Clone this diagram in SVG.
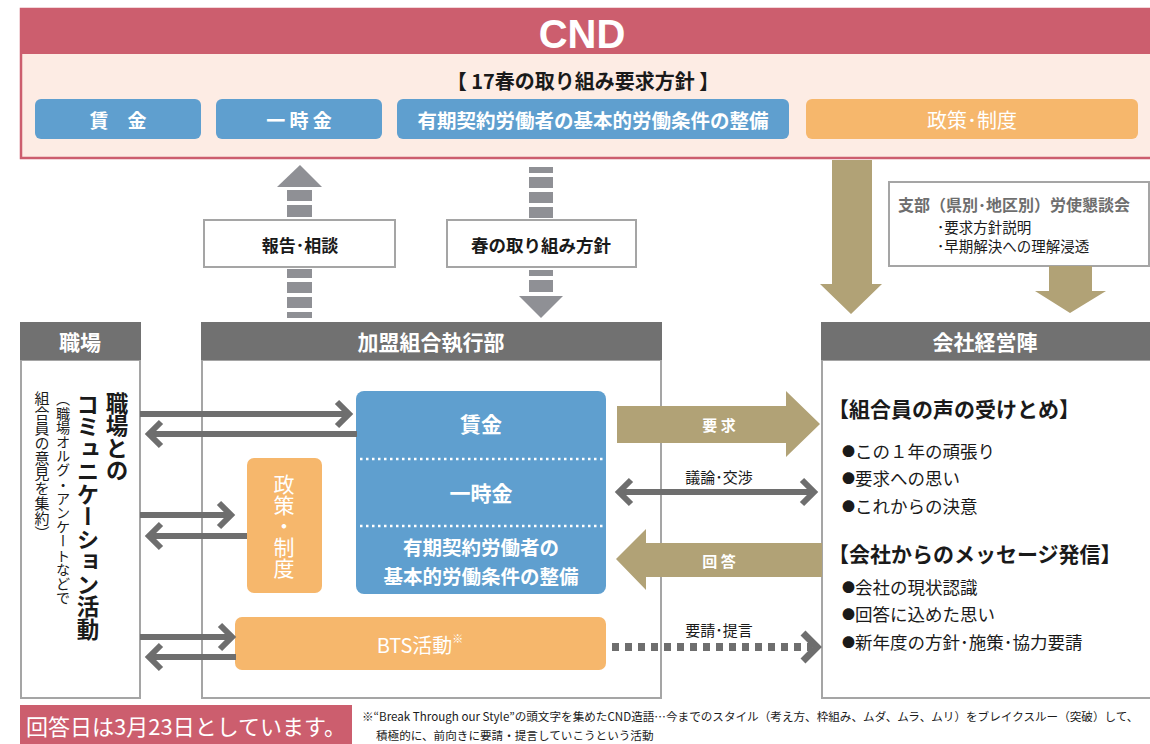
<svg xmlns="http://www.w3.org/2000/svg" width="1150" height="744" viewBox="0 0 1150 744">
<style>
.jp{font-family:"Noto Sans CJK JP","Noto Sans",sans-serif}
.b{font-weight:bold}
.w{fill:#fff}
.c{text-anchor:middle;dominant-baseline:central}
.hdr{fill:#717171}
.panel{fill:#fff;stroke:#A5A5A5;stroke-width:2}
.conn{stroke:#6E6E6E;stroke-width:6;fill:none}
.gray{fill:#8F9095}
.tan{fill:#B1A276}
.vt{writing-mode:vertical-rl}
.dk{fill:#1a1a1a}
.li{font-size:17.5px;dominant-baseline:central}
.bul{font-size:13px}
</style>
<defs>
<marker id="chev" markerUnits="userSpaceOnUse" markerWidth="40" markerHeight="40" viewBox="-20 -20 40 40" refX="0" refY="0" orient="auto-start-reverse">
<path d="M-12,-12 L0,0 L-12,12" fill="none" stroke="#6E6E6E" stroke-width="6"/>
</marker>
</defs>

<g id="cnd">
<rect x="21" y="9" width="1140" height="149" fill="#FDECE4" stroke="#CC5E6E" stroke-width="2.5"/>
<rect x="20" y="8" width="1140" height="46" fill="#CC5E6E"/>
<text x="582" y="34" class="w c b" style="font-family:'Liberation Sans',Arial,sans-serif;font-size:40px">CND</text>
<text x="583" y="80" class="jp b c dk" style="font-size:20px">【 17春の取り組み要求方針 】</text>
</g>
<g id="cnd-wage">
<rect x="35" y="99" width="166" height="40" rx="6" fill="#5F9FCF"/>
<text x="118" y="119" class="jp b w c" style="font-size:19px">賃　金</text>
</g>
<g id="cnd-bonus">
<rect x="216" y="99" width="166" height="40" rx="6" fill="#5F9FCF"/>
<text x="299" y="119" class="jp b w c" style="font-size:19px">一 時 金</text>
</g>
<g id="cnd-contract">
<rect x="397" y="99" width="392" height="40" rx="6" fill="#5F9FCF"/>
<text x="593" y="119" class="jp b w c" style="font-size:19.5px">有期契約労働者の基本的労働条件の整備</text>
</g>
<g id="cnd-policy">
<rect x="806" y="99" width="332" height="40" rx="6" fill="#F6B76C"/>
<text x="972" y="119" class="jp w c" style="font-size:20px">政策･制度</text>
</g>

<g id="report-box">
<rect x="204" y="220" width="191" height="47" fill="#fff" stroke="#A5A5A5" stroke-width="2"/>
<text x="300" y="244" class="jp b c dk" style="font-size:17px">報告･相談</text>
</g>
<g id="spring-box">
<rect x="447" y="220" width="189" height="47" fill="#fff" stroke="#A5A5A5" stroke-width="2"/>
<text x="541" y="244" class="jp b c dk" style="font-size:17.5px">春の取り組み方針</text>
</g>
<g id="branch-box">
<rect x="889" y="182" width="260" height="84" fill="#fff" stroke="#A5A5A5" stroke-width="2"/>
<text x="898" y="204" class="jp b" style="font-size:16px;fill:#6E6E6E;dominant-baseline:central">支部（県別･地区別）労使懇談会</text>
<text x="937" y="226" class="jp dk" style="font-size:14.5px;dominant-baseline:central">･要求方針説明</text>
<text x="937" y="245" class="jp dk" style="font-size:14.5px;dominant-baseline:central">･早期解決への理解浸透</text>
</g>

<g id="workplace">
<rect x="21" y="360" width="119" height="338" class="panel"/>
<rect x="20" y="322" width="121" height="38" class="hdr"/>
<text x="80" y="341" class="jp b w c" style="font-size:21px">職場</text>
<text x="117" y="392" class="jp b vt dk" style="font-size:22.5px">職場との</text>
<text x="88" y="393" class="jp b vt dk" style="font-size:22.5px">コミュニケーション活動</text>
<text x="63" y="392" class="jp vt dk" style="font-size:14.2px">（職場オルグ・アンケートなどで</text>
<text x="42" y="391" class="jp vt dk" style="font-size:15px">組合員の意見を集約）</text>
</g>
<g id="union-exec">
<rect x="202" y="360" width="459" height="338" class="panel"/>
<rect x="201" y="322" width="461" height="38" class="hdr"/>
<text x="431" y="341" class="jp b w c" style="font-size:21px">加盟組合執行部</text>
</g>
<g id="management">
<rect x="822" y="360" width="340" height="338" class="panel"/>
<rect x="821" y="322" width="340" height="38" class="hdr"/>
<text x="985" y="341" class="jp b w c" style="font-size:21px">会社経営陣</text>
<text x="828" y="408" class="jp b dk" style="font-size:21px;dominant-baseline:central">【組合員の声の受けとめ】</text>
<text x="842" y="450" class="jp dk li"><tspan class="bul">●</tspan>この１年の頑張り</text>
<text x="842" y="477" class="jp dk li"><tspan class="bul">●</tspan>要求への思い</text>
<text x="842" y="505" class="jp dk li"><tspan class="bul">●</tspan>これからの決意</text>
<text x="828" y="553" class="jp b dk" style="font-size:21px;dominant-baseline:central">【会社からのメッセージ発信】</text>
<text x="842" y="586" class="jp dk li"><tspan class="bul">●</tspan>会社の現状認識</text>
<text x="842" y="613" class="jp dk li"><tspan class="bul">●</tspan>回答に込めた思い</text>
<text x="842" y="641" class="jp dk li"><tspan class="bul">●</tspan>新年度の方針･施策･協力要請</text>
</g>

<g id="demand-block">
<rect x="356" y="391" width="250" height="203" rx="8" fill="#5F9FCF"/>
<line x1="360" y1="459" x2="603" y2="459" stroke="#fff" stroke-width="2.5" stroke-dasharray="2.5 3.5"/>
<line x1="360" y1="526" x2="603" y2="526" stroke="#fff" stroke-width="2.5" stroke-dasharray="2.5 3.5"/>
<text x="481" y="423" class="jp b w c" style="font-size:21px">賃金</text>
<text x="481" y="492" class="jp b w c" style="font-size:21px">一時金</text>
<text x="481" y="546" class="jp b w c" style="font-size:19.5px">有期契約労働者の</text>
<text x="481" y="575" class="jp b w c" style="font-size:19.5px">基本的労働条件の整備</text>
</g>
<g id="policy-block">
<rect x="247" y="458" width="75" height="135" rx="7" fill="#F6B76C"/>
<text x="284" y="474" class="jp vt w" style="font-size:21px">政策・制度</text>
</g>
<g id="bts-block">
<rect x="235" y="617" width="371" height="53" rx="7" fill="#F6B76C"/>
<text x="420" y="644" class="jp w c" style="font-size:20px">BTS活動<tspan style="font-size:11px" dy="-6">※</tspan></text>
</g>

<g id="connectors">
<path class="gray" d="M277,187 L300,165 L322,187 Z"/>
<rect class="gray" x="287" y="190" width="25" height="11"/>
<rect class="gray" x="287" y="205" width="25" height="12"/>
<rect class="gray" x="287" y="269" width="25" height="9"/>
<rect class="gray" x="287" y="282" width="25" height="11"/>
<rect class="gray" x="287" y="297" width="25" height="11"/>
<rect class="gray" x="287" y="312" width="25" height="6"/>
<rect class="gray" x="529" y="167" width="24" height="6"/>
<rect class="gray" x="529" y="177" width="24" height="11"/>
<rect class="gray" x="529" y="192" width="24" height="11"/>
<rect class="gray" x="529" y="207" width="24" height="11"/>
<rect class="gray" x="529" y="270" width="24" height="6"/>
<rect class="gray" x="529" y="280" width="24" height="12"/>
<path class="gray" d="M519,296 L563,296 L541,318 Z"/>

<path class="tan" d="M832,160 L872,160 L872,284 L882,284 L851,314 L820,284 L832,284 Z"/>
<path class="tan" d="M1049,266 L1092,266 L1092,291 L1106,291 L1070,313 L1035,291 L1049,291 Z"/>

<line class="conn" x1="140" y1="414" x2="349" y2="414" marker-end="url(#chev)"/>
<line class="conn" x1="357" y1="434" x2="149" y2="434" marker-end="url(#chev)"/>
<line class="conn" x1="140" y1="515" x2="231" y2="515" marker-end="url(#chev)"/>
<line class="conn" x1="247" y1="536" x2="149" y2="536" marker-end="url(#chev)"/>
<line class="conn" x1="140" y1="637" x2="232" y2="637" marker-end="url(#chev)"/>
<line class="conn" x1="236" y1="657" x2="149" y2="657" marker-end="url(#chev)"/>

<path class="tan" d="M617,406 L786,406 L786,391 L820,424 L786,457 L786,443 L617,443 Z"/>
<text x="719" y="424" class="jp b w c" style="font-size:15px">要 求</text>
<text x="719" y="476" class="jp c dk" style="font-size:15px">議論･交渉</text>
<line class="conn" x1="619" y1="492" x2="814" y2="492" marker-start="url(#chev)" marker-end="url(#chev)"/>
<path class="tan" d="M822,543 L646,543 L646,529 L616,559 L646,590 L646,577 L822,577 Z"/>
<text x="719" y="560" class="jp b w c" style="font-size:15px">回 答</text>
<text x="719" y="629" class="jp c dk" style="font-size:15px">要請･提言</text>
<line x1="612" y1="647" x2="812" y2="647" stroke="#6E6E6E" stroke-width="8" stroke-dasharray="7 6"/>
<polyline points="803,633 817,647 803,661" fill="none" stroke="#6E6E6E" stroke-width="7"/>
</g>

<g id="footer">
<rect x="20" y="705" width="332" height="39" fill="#CC5E6E"/>
<text x="186" y="725" class="jp w c" style="font-size:22px">回答日は3月23日としています。</text>
<text x="362" y="716" class="jp dk" style="font-size:11.6px;dominant-baseline:central">※“Break Through our Style”の頭文字を集めたCND造語…今までのスタイル（考え方、枠組み、ムダ、ムラ、ムリ）をブレイクスルー（突破）して、</text>
<text x="376" y="735" class="jp dk" style="font-size:11.6px;dominant-baseline:central">積極的に、前向きに要請・提言していこうという活動</text>
</g>
</svg>
